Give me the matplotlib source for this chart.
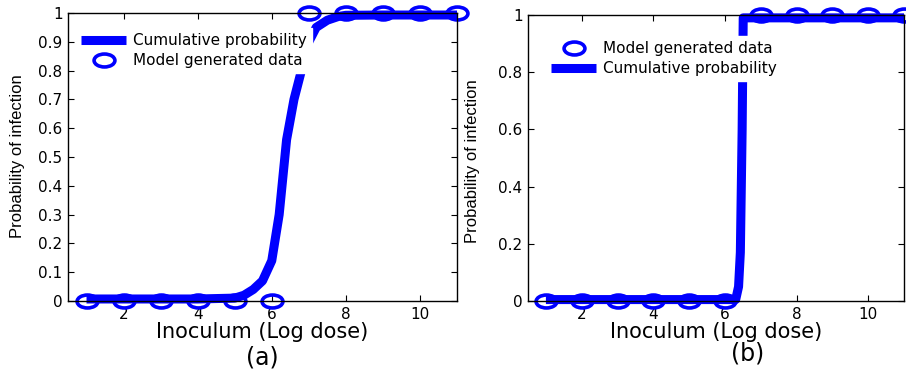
import numpy as np
import matplotlib
matplotlib.use('Agg')
import matplotlib.pyplot as plt
from matplotlib.path import Path
from matplotlib.transforms import Affine2D

# datos panel (a)
dosis = [1, 2, 3, 4, 5, 6, 7, 8, 9, 10, 11]
datos_a = [0, 0, 0, 0, 0, 0, 1, 1, 1, 1, 1]
curva_a_x = [1, 2, 3, 4, 5, 5.25, 5.5, 5.75, 6, 6.2, 6.4, 6.6, 6.8, 7.0, 7.2, 7.5, 7.8, 8, 9, 10, 11]
curva_a_y = [0.007, 0.007, 0.007, 0.007, 0.01, 0.02, 0.04, 0.07, 0.14, 0.3, 0.56, 0.7, 0.8, 0.9, 0.95, 0.975, 0.988, 0.992, 0.993, 0.993, 0.993]

# datos panel (b)
datos_b = [0, 0, 0, 0, 0, 0, 1, 1, 1, 1, 1]
curva_b_x = [1, 2, 3, 4, 5, 6, 6.3, 6.38, 6.43, 6.48, 6.51, 7, 8, 9, 10, 11]
curva_b_y = [0.005, 0.005, 0.005, 0.005, 0.005, 0.005, 0.005, 0.05, 0.17, 0.6, 0.99, 0.99, 0.99, 0.99, 0.99, 0.99]

azul = (0, 0, 1)
elipse = Path.unit_circle().transformed(Affine2D().scale(1.0, 0.62))
fuente_y = ['Liberation Sans Narrow', 'Liberation Sans', 'DejaVu Sans']

fig = plt.figure(figsize=(9.06, 3.69), dpi=100)
ax1 = fig.add_axes([68/906, 1-301/369, 389/906, 288/369])
ax2 = fig.add_axes([528/906, 1-301/369, 376/906, 286/369])


def estilo(ax, yticks):
    ax.set_xlim(0.5, 11)
    ax.set_ylim(0, 1)
    ax.set_xticks([2, 4, 6, 8, 10])
    ax.set_yticks(yticks)
    ax.set_yticklabels(['0' if t == 0 else ('1' if t == 1 else '%g' % t) for t in yticks])
    ax.tick_params(direction='in', top=True, right=True, length=4, width=0.8,
                   labelsize=11, pad=4)
    for s in ax.spines.values():
        s.set_linewidth(1)
    ax.set_xlabel('Inoculum (Log dose)', fontsize=15, labelpad=0)


def leyenda(ax, handles, x, y):
    return ax.legend(handles=handles, loc='upper left', bbox_to_anchor=(x/906, 1-y/369),
                     bbox_transform=fig.transFigure, fontsize=11, handlelength=2.95,
                     labelspacing=0.3, borderpad=0.35, handletextpad=0.45,
                     borderaxespad=0, fancybox=False, edgecolor='white', framealpha=1)


# Panel (a)
l1, = ax1.plot(curva_a_x, curva_a_y, color=azul, lw=6.5, clip_on=False,
               solid_capstyle='butt', label='Cumulative probability')
m1, = ax1.plot(dosis, datos_a, ls='none', marker=elipse, ms=15, mew=2.6,
               mfc='none', mec=azul, clip_on=False, label='Model generated data')
estilo(ax1, np.round(np.arange(0, 1.01, 0.1), 1))
leyenda(ax1, [l1, m1], 76, 28)

# Panel (b)
m2, = ax2.plot(dosis, datos_b, ls='none', marker=elipse, ms=15, mew=2.6,
               mfc='none', mec=azul, clip_on=False, label='Model generated data')
l2, = ax2.plot(curva_b_x, curva_b_y, color=azul, lw=6.5, clip_on=False,
               solid_capstyle='butt', label='Cumulative probability')
estilo(ax2, [0, 0.2, 0.4, 0.6, 0.8, 1])
leyenda(ax2, [m2, l2], 546, 36)

fig.text(18/906, 1-156/369, 'Probability of infection', rotation=90, ha='center',
         va='center', fontsize=12, family=fuente_y)
fig.text(472/906, 1-161/369, 'Probability of infection', rotation=90, ha='center',
         va='center', fontsize=12, family=fuente_y)

fig.text(262/906, 1-358/369, '(a)', ha='center', va='center', fontsize=17)
fig.text(748/906, 1-353/369, '(b)', ha='center', va='center', fontsize=17)

fig.savefig('out.png', dpi=100)
